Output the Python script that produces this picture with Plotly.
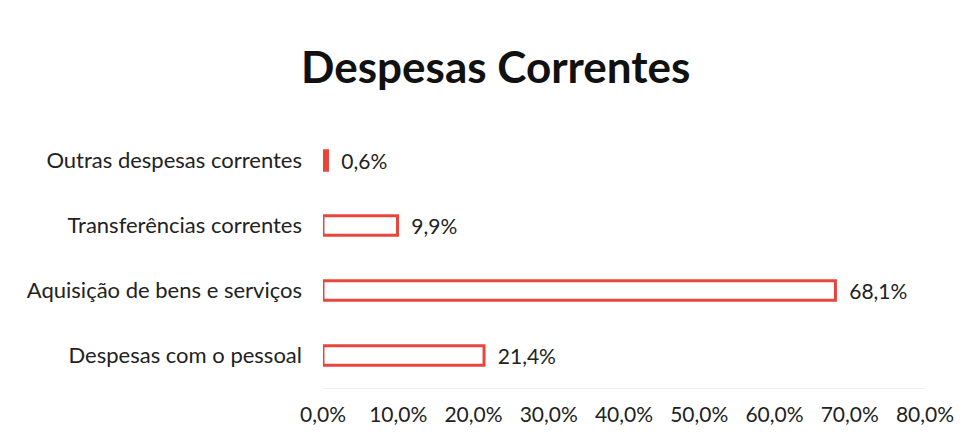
import plotly.graph_objects as go

categories = ["Despesas com o pessoal", "Aquisição de bens e serviços",
              "Transferências correntes", "Outras despesas correntes"]
values = [21.4, 68.1, 9.9, 0.6]
tick_vals = [0, 10, 20, 30, 40, 50, 60, 70, 80]
tick_text = ["0,0%", "10,0%", "20,0%", "30,0%", "40,0%", "50,0%", "60,0%", "70,0%", "80,0%"]

labels = ["  " + f"{v:.1f}%".replace(".", ",") for v in values]
fill_colors = ["white", "white", "white", "#E8453C"]

fig = go.Figure(go.Bar(
    y=categories, x=values, orientation="h",
    marker=dict(color=fill_colors, line=dict(color="#E8453C", width=3)),
    width=0.3,
    text=labels, textposition="outside", cliponaxis=False, constraintext="none",
    textfont=dict(size=21, color="#222222", family="Lato"),
    hoverinfo="skip",
))

fig.update_layout(
    width=972, height=439,
    margin=dict(l=323, r=47, t=128, b=51, autoexpand=False),
    paper_bgcolor="white", plot_bgcolor="white",
    title=dict(text="<b>Despesas Correntes</b>", x=0.51, xref="container", y=0.845,
               yref="container", yanchor="middle", xanchor="center",
               font=dict(size=44, family="Lato", color="#111111")),
    font=dict(family="Lato", size=21, color="#222222"),
    showlegend=False,
)
fig.update_xaxes(range=[0, 80], tickvals=tick_vals, ticktext=tick_text, automargin=False,
                 showgrid=False, zeroline=False, showline=True, linecolor="#F0F0F0",
                 ticks="", ticklabelstandoff=8, tickfont=dict(size=21))
fig.update_yaxes(showgrid=False, zeroline=False, showline=False, ticks="", automargin=False,
                 ticklabelstandoff=20, tickfont=dict(size=22))

fig.write_html("out.html", config={"displayModeBar": False},
               post_script="document.body.style.margin='0px';")
